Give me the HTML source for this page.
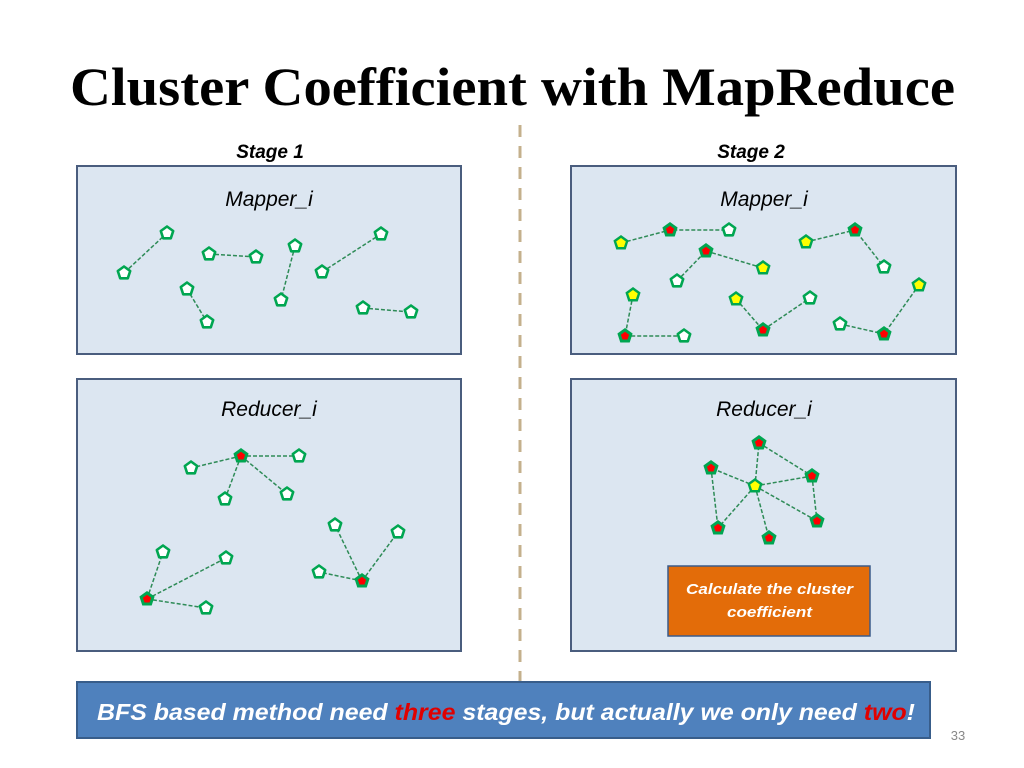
<!DOCTYPE html>
<html><head><meta charset="utf-8"><style>
body{margin:0;background:#fff;}
svg{display:block}
</style></head><body>
<svg width="1024" height="768" viewBox="0 0 1024 768" xmlns="http://www.w3.org/2000/svg" font-family="Liberation Sans, sans-serif">
<defs>
<path id="pw" d="M0,-6.5 L6.2,-2 L3.8,5.3 L-3.8,5.3 L-6.2,-2 Z" fill="#fff" stroke="#00a651" stroke-width="2.6" stroke-linejoin="round"/>
<g id="pr"><path d="M0,-8 L7.6,-2.5 L4.7,6.5 L-4.7,6.5 L-7.6,-2.5 Z" fill="#00a651"/><path d="M0,-4.3 L4.1,-1.3 L2.5,3.5 L-2.5,3.5 L-4.1,-1.3 Z" fill="#ff0000"/></g>
<g id="py"><path d="M0,-8 L7.6,-2.5 L4.7,6.5 L-4.7,6.5 L-7.6,-2.5 Z" fill="#00a651"/><path d="M0,-5 L4.8,-1.5 L2.9,4 L-2.9,4 L-4.8,-1.5 Z" fill="#ffff00"/></g>
</defs>
<text x="70" y="105" textLength="885" lengthAdjust="spacingAndGlyphs" font-family="Liberation Serif, serif" font-weight="bold" font-size="54">Cluster Coefficient with MapReduce</text>
<line x1="520" y1="125" x2="520" y2="682" stroke="#c4b08c" stroke-width="3" stroke-dasharray="12,9"/>
<text x="270" y="158" text-anchor="middle" font-weight="bold" font-style="italic" font-size="19">Stage 1</text>
<text x="751" y="158" text-anchor="middle" font-weight="bold" font-style="italic" font-size="19">Stage 2</text>
<g fill="#dce6f1" stroke="#4a5d7e" stroke-width="2">
<rect x="77" y="166" width="384" height="188"/>
<rect x="77" y="379" width="384" height="272"/>
<rect x="571" y="166" width="385" height="188"/>
<rect x="571" y="379" width="385" height="272"/>
</g>
<g font-style="italic" font-size="21" text-anchor="middle">
<text x="269" y="206">Mapper_i</text>
<text x="269" y="416">Reducer_i</text>
<text x="764" y="206">Mapper_i</text>
<text x="764" y="416">Reducer_i</text>
</g>
<g stroke="#2e8b57" stroke-width="1.5" stroke-dasharray="4,2" fill="none">
<path d="M167,233L124,273 M209,254L256,257 M295,246L281,300 M381,234L322,272 M187,289L207,322 M363,308L411,312"/>
<path d="M621,243L670,230L729,230 M677,281L706,251L763,268 M806,242L855,230L884,267 M633,295L625,336L684,336 M736,299L763,330L810,298 M840,324L884,334L919,285"/>
<path d="M241,456L191,468 M241,456L299,456 M241,456L225,499 M241,456L287,494 M147,599L163,552 M147,599L226,558 M147,599L206,608 M362,581L335,525 M362,581L398,532 M362,581L319,572"/>
<path d="M755,486L759,443 M755,486L711,468 M755,486L812,476 M755,486L817,521 M755,486L718,528 M755,486L769,538 M759,443L812,476 M711,468L718,528 M812,476L817,521"/>
</g>
<g>
<use href="#pw" x="167" y="233"/><use href="#pw" x="124" y="273"/><use href="#pw" x="209" y="254"/><use href="#pw" x="256" y="257"/><use href="#pw" x="295" y="246"/><use href="#pw" x="281" y="300"/><use href="#pw" x="381" y="234"/><use href="#pw" x="322" y="272"/><use href="#pw" x="187" y="289"/><use href="#pw" x="207" y="322"/><use href="#pw" x="363" y="308"/><use href="#pw" x="411" y="312"/>
<use href="#py" x="621" y="243"/><use href="#pr" x="670" y="230"/><use href="#pw" x="729" y="230"/>
<use href="#pw" x="677" y="281"/><use href="#pr" x="706" y="251"/><use href="#py" x="763" y="268"/>
<use href="#py" x="806" y="242"/><use href="#pr" x="855" y="230"/><use href="#pw" x="884" y="267"/>
<use href="#py" x="633" y="295"/><use href="#pr" x="625" y="336"/><use href="#pw" x="684" y="336"/>
<use href="#py" x="736" y="299"/><use href="#pr" x="763" y="330"/><use href="#pw" x="810" y="298"/>
<use href="#pw" x="840" y="324"/><use href="#pr" x="884" y="334"/><use href="#py" x="919" y="285"/>
<use href="#pr" x="241" y="456"/><use href="#pw" x="191" y="468"/><use href="#pw" x="299" y="456"/><use href="#pw" x="225" y="499"/><use href="#pw" x="287" y="494"/>
<use href="#pr" x="147" y="599"/><use href="#pw" x="163" y="552"/><use href="#pw" x="226" y="558"/><use href="#pw" x="206" y="608"/>
<use href="#pr" x="362" y="581"/><use href="#pw" x="335" y="525"/><use href="#pw" x="398" y="532"/><use href="#pw" x="319" y="572"/>
<use href="#py" x="755" y="486"/><use href="#pr" x="759" y="443"/><use href="#pr" x="711" y="468"/><use href="#pr" x="812" y="476"/><use href="#pr" x="817" y="521"/><use href="#pr" x="718" y="528"/><use href="#pr" x="769" y="538"/>
</g>
<rect x="668" y="566" width="202" height="70" fill="#e36c09" stroke="#3b5b8a" stroke-width="1.5"/>
<g fill="#fff" font-weight="bold" font-style="italic" font-size="15">
<text x="686" y="594" textLength="167" lengthAdjust="spacingAndGlyphs">Calculate the cluster</text>
<text x="727" y="617" textLength="85" lengthAdjust="spacingAndGlyphs">coefficient</text>
</g>
<rect x="77" y="682" width="853" height="56" fill="#4f81bd" stroke="#385d8a" stroke-width="2"/>
<text x="97" y="720" textLength="818" lengthAdjust="spacingAndGlyphs" fill="#fff" font-weight="bold" font-style="italic" font-size="23">BFS based method need <tspan fill="#e00000">three</tspan> stages,  but actually we only need <tspan fill="#e00000">two</tspan>!</text>
<text x="958" y="740" text-anchor="middle" fill="#888" font-size="13">33</text>
</svg>
</body></html>
